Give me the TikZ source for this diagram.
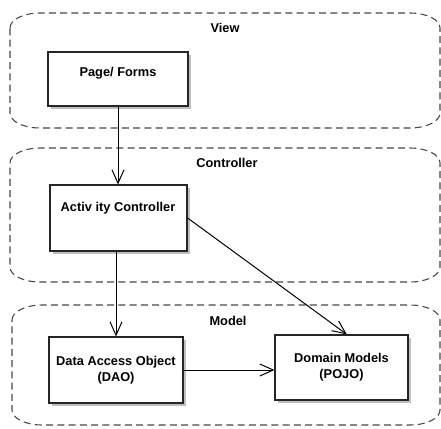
\documentclass[tikz,border=0pt]{standalone}
\usepackage{fontspec}
\setmainfont{Liberation Sans}
\usetikzlibrary{arrows.meta,shadows}
\newcommand{\ovalframe}[4]{% x1 y1 x2 y2
  \draw[container] ({#1},{#2+15}) .. controls ({#1},{#2+6.7}) and ({#1+13.4},{#2}) .. ({#1+30},{#2})
    -- ({#3-30},{#2}) .. controls ({#3-13.4},{#2}) and ({#3},{#2+6.7}) .. ({#3},{#2+15})
    -- ({#3},{#4-15}) .. controls ({#3},{#4-6.7}) and ({#3-13.4},{#4}) .. ({#3-30},{#4})
    -- ({#1+30},{#4}) .. controls ({#1+13.4},{#4}) and ({#1},{#4-6.7}) .. ({#1},{#4-15}) -- cycle;}
\begin{document}
\begin{tikzpicture}[x=0.75pt,y=-0.75pt,
  container/.style={draw=black!72, dash pattern=on 5.25pt off 3.2pt, line width=0.8pt},
  box/.style={draw=black!85, fill=white, line width=0.9pt, inner sep=0pt,
    drop shadow={shadow xshift=2.6pt, shadow yshift=-2.6pt, fill=black!25, opacity=1}},
  lbl/.style={font=\bfseries\fontsize{9.6}{12}\selectfont, align=center, inner sep=0pt},
  conn/.style={draw=black, line width=0.75pt, -{Straight Barb[length=10pt,width=9pt]}}]
\useasboundingbox (0,0) rectangle (441,428);
% containers
\ovalframe{10}{13}{440}{128}
\ovalframe{10}{148}{440}{282}
\ovalframe{12}{305}{440}{425}
\node[lbl] (viewlbl) at (225,28) {View};
\node[lbl] (ctrllbl) at (227,163) {Controller};
\node[lbl] (modellbl) at (228,321) {Model};
% boxes
\node[box, minimum width=105pt, minimum height=40.5pt] (page) at (118,79) {};
\node[lbl] (pagetxt) at (118,73) {Page/ Forms};
\node[box, minimum width=102.75pt, minimum height=49.5pt] (act) at (118.5,218) {};
\node[lbl] (acttxt) at (118,208) {Activ ity Controller};
\node[box, lbl, minimum width=100.5pt, minimum height=49.5pt] (dao) at (116,370) {Data Access Object\\(DAO)};
\node[box, lbl, minimum width=99.75pt, minimum height=48.75pt] (dom) at (341.5,367.5) {Domain Models\\(POJO)};
% connectors
\draw[conn] (page.south) -- (page.south |- act.north);
\draw[conn] (dao.north |- act.south) -- (dao.north);
\draw[conn] (act.east) -- ([xshift=4pt]dom.north);
\draw[conn] (dao.east) -- (dao.east -| dom.west);
\end{tikzpicture}
\end{document}
